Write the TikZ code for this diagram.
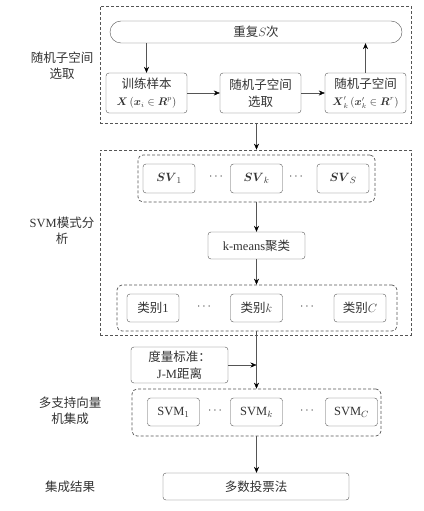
\documentclass[tikz,border=0pt]{standalone}
\usepackage{fontspec}
\setmainfont{Liberation Serif}
\newfontfamily\cjk{Noto Sans CJK SC}
\usepackage{amsmath, amssymb}
\usetikzlibrary{arrows.meta, positioning, calc}

\definecolor{linegray}{HTML}{555555}
\definecolor{textgray}{HTML}{333333}
\newcommand{\latn}[1]{{\rmfamily #1}}
\newcommand{\smallmath}[1]{{\fontsize{10.5}{13}\selectfont$#1$}}

\begin{document}
\begin{tikzpicture}[
    x=1pt, y=-1pt,
    >=Stealth,
    box/.style={
        draw=linegray, rounded corners=3pt, fill=white, text=textgray,
        font=\cjk\fontsize{12.5}{17}\selectfont, align=center, inner sep=1pt
    },
    wide/.style={box, minimum width=81pt, minimum height=40pt},
    small/.style={box, minimum width=52pt, minimum height=28pt},
    area/.style={draw=linegray, line width=0.7pt, dash pattern=on 3pt off 2pt, minimum width=311pt, inner sep=0pt},
    grp/.style={draw=linegray, line width=0.7pt, dash pattern=on 3pt off 2pt, rounded corners=5pt, inner sep=0pt},
    arr/.style={draw=linegray, -{Stealth[black, length=6pt, width=5pt]}},
    lbl/.style={text=textgray, font=\cjk\fontsize{12.5}{16}\selectfont, align=center},
    dots/.style={text=textgray, font=\fontsize{12}{14}\selectfont},
]
\useasboundingbox (0,0) rectangle (423,511);

% ================================================================
%  RANDOM SUBSPACE SELECTION
% ================================================================
\node[area, minimum height=117pt] (selArea) at (255.5, 64.5) {};
\node[lbl] (lblSel) at (62, 66) {随机子空间\\选取};

\node[box, rounded corners=11pt, minimum width=292pt, minimum height=22pt]
    (repeat) at (256, 32) {重复$S$次};

\node[wide] (train)  at (146.5, 93) {训练样本\\\smallmath{\boldsymbol{X}\left(\boldsymbol{x}_i \in \boldsymbol{R}^p\right)}};
\node[wide] (select) at (260.5, 93) {随机子空间\\选取};
\node[wide] (subsp)  at (365.5, 93) {随机子空间\\\smallmath{\boldsymbol{X}'_k\left(\boldsymbol{x}'_k \in \boldsymbol{R}^r\right)}};

\draw[arr] (repeat.south -| train.north) -- (train.north);
\draw[arr] (train) -- (select);
\draw[arr] (select) -- (subsp);
\draw[arr] (subsp.north) -- (subsp.north |- repeat.south);

% ================================================================
%  SVM PATTERN ANALYSIS
% ================================================================
\node[area, minimum height=185pt] (svmArea) at (255.5, 242.5) {};
\node[lbl] (lblSvm) at (62, 231) {\latn{SVM}模式分\\析};

% --- support vectors ---
\node[grp, minimum width=237pt, minimum height=47pt] (svGrp) at (256.5, 178.5) {};
\node[small, minimum height=29pt] (sv1) at (169, 178.5)   {$\boldsymbol{SV}_1$};
\node[small, minimum height=29pt] (svk) at (256.5, 178.5) {$\boldsymbol{SV}_k$};
\node[small, minimum height=29pt] (svS) at (343, 178.5)   {$\boldsymbol{SV}_S$};
\node[dots] (svDotsA) at (217, 177) {$\cdots$};
\node[dots] (svDotsB) at (297, 177) {$\cdots$};

% --- clustering ---
\node[box, minimum width=97pt, minimum height=27pt] (kmeans) at (256.5, 245.5) {\latn{k-means}聚类};

% --- classes ---
\node[grp, minimum width=280pt, minimum height=46pt] (catGrp) at (257, 308) {};
\node[small] (cat1) at (153, 308)   {类别\latn{1}};
\node[small] (catk) at (256.5, 308) {类别$k$};
\node[small] (catC) at (360, 308)   {类别$C$};
\node[dots] (catDotsA) at (205, 307) {$\cdots$};
\node[dots] (catDotsB) at (308, 307) {$\cdots$};

\draw[arr] (selArea.south -| kmeans) -- (svmArea.north -| kmeans);
\draw[arr] (svGrp) -- (kmeans);
\draw[arr] (kmeans.south) -- (kmeans.south |- catGrp.north);

% ================================================================
%  MULTI-SVM ENSEMBLE
% ================================================================
\node[box, minimum width=97pt, minimum height=36pt] (metric) at (179.5, 365) {度量标准：\\\latn{J-M}距离};

\node[lbl] (lblEns) at (70, 411) {多支持向量\\机集成};
\node[grp, minimum width=249pt, minimum height=47pt] (svmGrp) at (256.5, 412.5) {};
\node[small] (svm1) at (173.5, 412) {\latn{SVM}$_1$};
\node[small] (svmk) at (256.5, 412) {\latn{SVM}$_k$};
\node[small] (svmC) at (351.5, 412) {\latn{SVM}$_C$};
\node[dots] (svmDotsA) at (216, 411) {$\cdots$};
\node[dots] (svmDotsB) at (308, 411) {$\cdots$};

\coordinate (join) at (kmeans |- metric.east);
\draw[arr] (catGrp.south -| kmeans) -- (svmGrp.north -| kmeans);
\draw[arr] (metric.east) -- (join);

% ================================================================
%  RESULT
% ================================================================
\node[lbl] (lblRes) at (70, 487) {集成结果};
\node[box, minimum width=186pt, minimum height=27pt] (vote) at (256, 486.5) {多数投票法};

\draw[arr] (svmGrp.south -| kmeans) -- (vote.north -| kmeans);

\end{tikzpicture}
\end{document}
